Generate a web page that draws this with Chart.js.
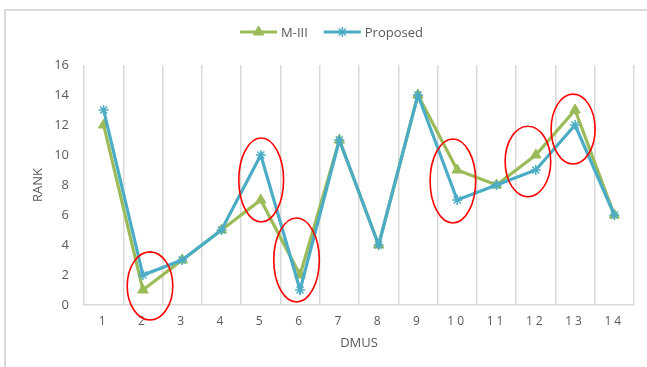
<!DOCTYPE html>
<html>
<head>
<meta charset="utf-8">
<script src="https://cdn.jsdelivr.net/npm/chart.js@4.4.1/dist/chart.umd.min.js"></script>
<style>
  html, body { margin: 0; padding: 0; background: #fff; }
  #wrap { position: relative; width: 647px; height: 367px; }
  #frame { position: absolute; left: 4px; top: 9px; right: 0; bottom: 0;
           border-left: 2px solid #d9d9d9; border-top: 2px solid #d9d9d9; pointer-events: none; }
  canvas { position: absolute; left: 0; top: 0; }
</style>
</head>
<body>
<div id="wrap">
  <canvas id="c" width="647" height="367"></canvas>
  <div id="frame"></div>
</div>
<script>
// Decision-making units and their ranks under each method
const dmus = ['1', '2', '3', '4', '5', '6', '7', '8', '9', '10', '11', '12', '13', '14'];
const rankM3 = [12, 1, 3, 5, 7, 2, 11, 4, 14, 9, 8, 10, 13, 6];
const rankProposed = [13, 2, 3, 5, 10, 1, 11, 4, 14, 7, 8, 9, 12, 6];
const yTicks = [0, 2, 4, 6, 8, 10, 12, 14, 16];

// Highlighted disagreements: [category index, rank centre, half-width (categories), half-height (ranks)]
const highlights = [
  [1.18, 1.27, 0.58, 2.27],
  [4.01, 8.33, 0.57, 2.8],
  [4.91, 3.0, 0.58, 2.8],
  [8.89, 8.27, 0.58, 2.8],
  [10.80, 9.57, 0.58, 2.35],
  [11.95, 11.73, 0.56, 2.33]
];

const GREEN = '#9bbb59';
const BLUE = '#4bacc6';
const TEXT = '#595959';
const GRID = '#d9d9d9';
const FONT = "'Open Sans', 'Liberation Sans', sans-serif";

// Category axis whose labels are drawn with extra letter spacing
class SpacedCategoryScale extends Chart.CategoryScale {
  drawLabels(chartArea) {
    const ctx = this.ctx;
    const prev = ctx.letterSpacing;
    ctx.letterSpacing = '3px';
    super.drawLabels(chartArea);
    ctx.letterSpacing = prev;
  }
}
SpacedCategoryScale.id = 'spacedCategory';
SpacedCategoryScale.defaults = Chart.CategoryScale.defaults;
Chart.register(SpacedCategoryScale);

// Red ellipses around the differing ranks
const ellipsePlugin = {
  id: 'ellipses',
  afterDatasetsDraw(chart) {
    const { ctx, scales: { x, y } } = chart;
    const step = x.getPixelForValue(1) - x.getPixelForValue(0);
    ctx.save();
    ctx.strokeStyle = '#ff0000';
    ctx.lineWidth = 1.6;
    highlights.forEach(([ci, v, hw, hh]) => {
      const cx = x.getPixelForValue(0) + ci * step;
      const cy = y.getPixelForValue(v);
      const rx = hw * step;
      const ry = Math.abs(y.getPixelForValue(v + hh) - cy);
      ctx.beginPath();
      ctx.ellipse(cx, cy, rx, ry, 0, 0, Math.PI * 2);
      ctx.stroke();
    });
    ctx.restore();
  }
};

// Legend: a short line with the series marker, then the series name
const lineLegendPlugin = {
  id: 'lineLegend',
  afterDraw(chart) {
    const { ctx } = chart;
    const items = chart.data.datasets.slice().sort((a, b) => a.legendIndex - b.legendIndex);
    ctx.save();
    ctx.font = '13px ' + FONT;
    const segLen = 37, gap = 4, between = 16, yMid = 32;
    let total = 0;
    items.forEach((d, i) => { total += segLen + gap + ctx.measureText(d.label).width + (i ? between : 0); });
    let x0 = (chart.width - total) / 2 + 8;
    items.forEach((d) => {
      ctx.strokeStyle = d.borderColor;
      ctx.lineWidth = 3;
      ctx.beginPath();
      ctx.moveTo(x0, yMid);
      ctx.lineTo(x0 + segLen, yMid);
      ctx.stroke();
      ctx.fillStyle = d.pointBackgroundColor;
      ctx.strokeStyle = d.pointBorderColor;
      ctx.lineWidth = d.pointBorderWidth;
      Chart.helpers.drawPoint(ctx, {
        pointStyle: d.pointStyle, radius: d.pointRadius, borderWidth: d.pointBorderWidth
      }, x0 + segLen / 2, yMid);
      ctx.fillStyle = TEXT;
      ctx.textBaseline = 'middle';
      ctx.textAlign = 'left';
      ctx.fillText(d.label, x0 + segLen + gap, yMid + 1);
      x0 += segLen + gap + ctx.measureText(d.label).width + between;
    });
    ctx.restore();
  }
};

new Chart(document.getElementById('c'), {
  type: 'line',
  data: {
    labels: dmus,
    datasets: [
      {
        label: 'M-III', data: rankM3, legendIndex: 0, order: 1,
        borderColor: GREEN, backgroundColor: GREEN, borderWidth: 3.2,
        pointStyle: 'triangle', pointRadius: 6, pointBorderWidth: 1,
        pointBackgroundColor: GREEN, pointBorderColor: GREEN, tension: 0
      },
      {
        label: 'Proposed', data: rankProposed, legendIndex: 1, order: 0,
        borderColor: BLUE, backgroundColor: BLUE, borderWidth: 3.2,
        pointStyle: 'star', pointRadius: 5, pointBorderWidth: 1.5,
        pointBackgroundColor: BLUE, pointBorderColor: BLUE, tension: 0
      }
    ]
  },
  options: {
    responsive: false,
    animation: false,
    events: [],
    layout: { padding: { left: 0, right: 13, top: 65, bottom: 0 } },
    plugins: { legend: { display: false }, tooltip: { enabled: false } },
    scales: {
      x: {
        type: 'spacedCategory',
        offset: true,
        grid: { display: true, offset: true, color: GRID, lineWidth: 1.5, drawTicks: false },
        border: { display: true, color: GRID, width: 1.5 },
        ticks: { color: TEXT, font: { family: FONT, size: 12 }, padding: 9, maxRotation: 0 },
        title: { display: true, text: 'DMUS', color: TEXT, font: { family: FONT, size: 13 }, padding: { top: 0, bottom: 16 } },
        afterFit(scale) { scale.height = 62; }
      },
      y: {
        min: 0, max: 16,
        afterBuildTicks(scale) { scale.ticks = yTicks.map(v => ({ value: v })); },
        grid: { display: false, drawTicks: false },
        border: { display: false },
        ticks: { color: TEXT, font: { family: FONT, size: 13 }, padding: 15 },
        title: { display: true, text: 'RANK', color: TEXT, font: { family: FONT, size: 13 }, padding: { top: 30, bottom: 0 } },
        afterFit(scale) { scale.width = 84; }
      }
    }
  },
  plugins: [ellipsePlugin, lineLegendPlugin]
});
</script>
</body>
</html>
